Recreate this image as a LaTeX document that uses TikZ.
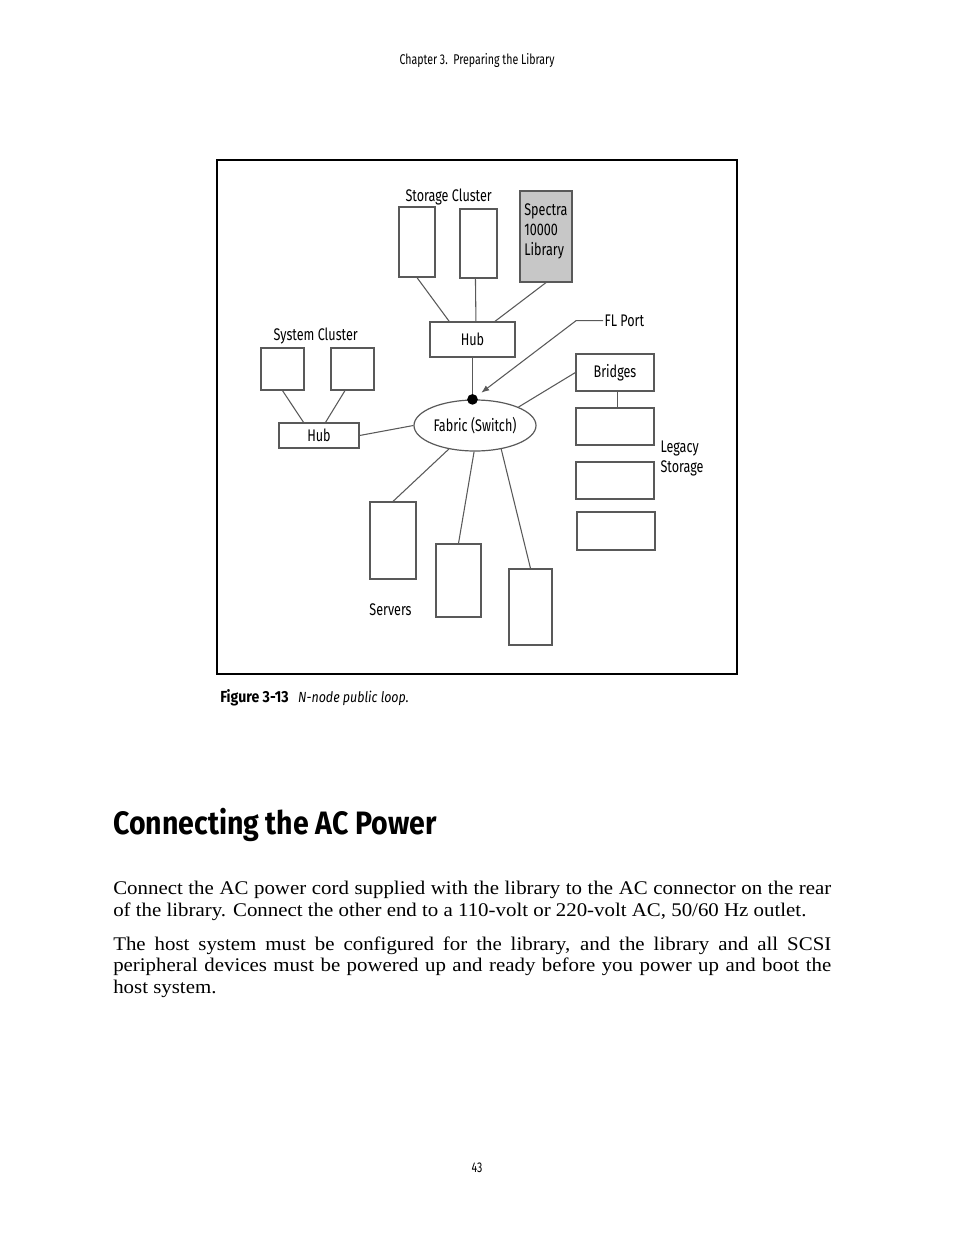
\documentclass[tikz,border=0pt]{standalone}
\usepackage{fontspec}
\setmainfont{Liberation Serif}[FakeStretch=1.08]
\newfontfamily\condsans[FakeStretch=0.75, BoldFeatures={FakeStretch=0.88}, ItalicFeatures={FakeStretch=0.85}]{Fira Sans}
\usetikzlibrary{arrows.meta,calc,shapes.geometric}

\begin{document}
\begin{tikzpicture}[
    x=0.75pt, y=-0.75pt,
    every node/.style={font=\condsans\fontsize{12.6}{15}\selectfont},
    netbox/.style 2 args={draw=black!65, line width=0.9pt, inner sep=0pt, minimum width=#1*0.75pt, minimum height=#2*0.75pt},
    netlink/.style={draw=black!65, line width=0.8pt},
    netlabel/.style={inner sep=1pt, align=left},
    pagetext/.style={inner sep=0pt, align=left},
    bodytext/.style={pagetext, font=\fontsize{14.5}{16.3}\selectfont},
    flarrow/.style={draw=black!65, line width=0.8pt, -{Latex[length=6pt, width=4.5pt]}}
  ]
    \useasboundingbox (0,0) rectangle (954,1235);
    \node[pagetext, anchor=base, font=\condsans\fontsize{10.6}{12}\selectfont] (runhead) at (477,64.5) {Chapter 3.\ \ Preparing the Library};
    \draw[line width=1.1pt] (217,160) rectangle (737,674);

    \node[netbox={36}{70}] (sc1) at (417,242) {};
    \node[netbox={37}{69}] (sc2) at (478.5,243.5) {};
    \node[netbox={52}{91}, fill=black!22, label={[pagetext, anchor=north west, xshift=3.5pt, yshift=-9.5pt]north west:Spectra\\10000\\Library}] (lib) at (546,236.5) {};
    \node[netlabel] (storagelbl) at (448.7,197) {Storage Cluster};
    \node[netbox={85}{35}] (hub) at (472.5,339.5) {Hub};

    \node[netlabel] (systemlbl) at (315.7,335.5) {System Cluster};
    \node[netbox={43}{42}] (sys1) at (282.5,369) {};
    \node[netbox={43}{42}] (sys2) at (352.5,369) {};
    \node[netbox={80}{25}] (hub2) at (319,435.5) {Hub};

    \node[ellipse, draw=black!65, line width=0.9pt, inner sep=0pt, minimum width=122*0.75pt, minimum height=51*0.75pt] (fabric) at (475,425.5) {Fabric (Switch)};
    \node[circle, fill=black, inner sep=0pt, minimum size=8pt] (fldot) at (hub.south |- fabric.north) {};
    \node[netlabel, anchor=west] (flport) at (603,320.7) {FL Port};

    \node[netbox={78}{37}] (bridges) at (615,372.5) {Bridges};
    \node[netbox={78}{37}] (leg1) at (615,426.5) {};
    \node[netbox={78}{37}] (leg2) at (615,480.5) {};
    \node[netbox={78}{38}] (leg3) at (616,531) {};
    \node[netlabel, anchor=west] (legacylbl) at (659,458.5) {Legacy\\Storage};

    \node[netbox={46}{77}] (srv1) at (393,540.5) {};
    \node[netbox={45}{73}] (srv2) at (458.5,580.5) {};
    \node[netbox={43}{76}] (srv3) at (530.5,607) {};
    \node[netlabel] (serverslbl) at (390.5,609.5) {Servers};

    \draw[netlink] (sc1.south) -- ($(hub.north west)!0.23!(hub.north east)$);
    \draw[netlink] ($(sc2.south west)!0.42!(sc2.south east)$) -- ($(hub.north west)!0.54!(hub.north east)$);
    \draw[netlink] (lib.south) -- ($(hub.north west)!0.76!(hub.north east)$);
    \draw[netlink] (hub.south) -- (fldot);
    \draw[netlink] (sys1.south) -- ($(hub2.north west)!0.31!(hub2.north east)$);
    \draw[netlink] ($(sys2.south west)!0.33!(sys2.south east)$) -- ($(hub2.north west)!0.58!(hub2.north east)$);
    \draw[netlink] (hub2.east) -- (fabric.west);
    \draw[netlink] (bridges.west) -- (fabric.23);
    \draw[netlink] ($(bridges.south west)!0.53!(bridges.south east)$) -- ($(leg1.north west)!0.53!(leg1.north east)$);
    \draw[netlink] (fabric.222) -- (srv1.north);
    \draw[netlink] (fabric.268) -- (srv2.north);
    \draw[netlink] (fabric.318) -- (srv3.north);
    \draw[flarrow, shorten >=4pt] (flport.west) -- ++(-27,0) -- (fldot);

    \node[pagetext, anchor=base west, font=\condsans\bfseries\fontsize{12}{14}\selectfont] (figlabel) at (220,702.7) {Figure 3-13};
    \node[pagetext, anchor=base west, font=\condsans\itshape\fontsize{11}{13}\selectfont] (figtitle) at ($(figlabel.base east)+(9,0)$) {N-node public loop.};

    \node[pagetext, anchor=base west, font=\condsans\bfseries\fontsize{24.3}{28}\selectfont] (heading) at (113,834) {Connecting the AC Power};

    \node[bodytext, anchor=base west] (para1) at (113,916.5) {\makebox[538.5pt][s]{Connect the AC power cord supplied with the library to the AC connector on the rear}\\of the library. Connect the other end to a 110-volt or 220-volt AC, 50/60 Hz outlet.};
    \node[bodytext, anchor=base west] (para2) at (113,993.5) {\makebox[538.5pt][s]{The host system must be configured for the library, and the library and all SCSI}\\\makebox[538.5pt][s]{peripheral devices must be powered up and ready before you power up and boot the}\\host system.};

    \node[pagetext, anchor=base, font=\condsans\fontsize{10.6}{12}\selectfont] (pagenum) at (477,1172) {43};
  \end{tikzpicture}
\end{document}
